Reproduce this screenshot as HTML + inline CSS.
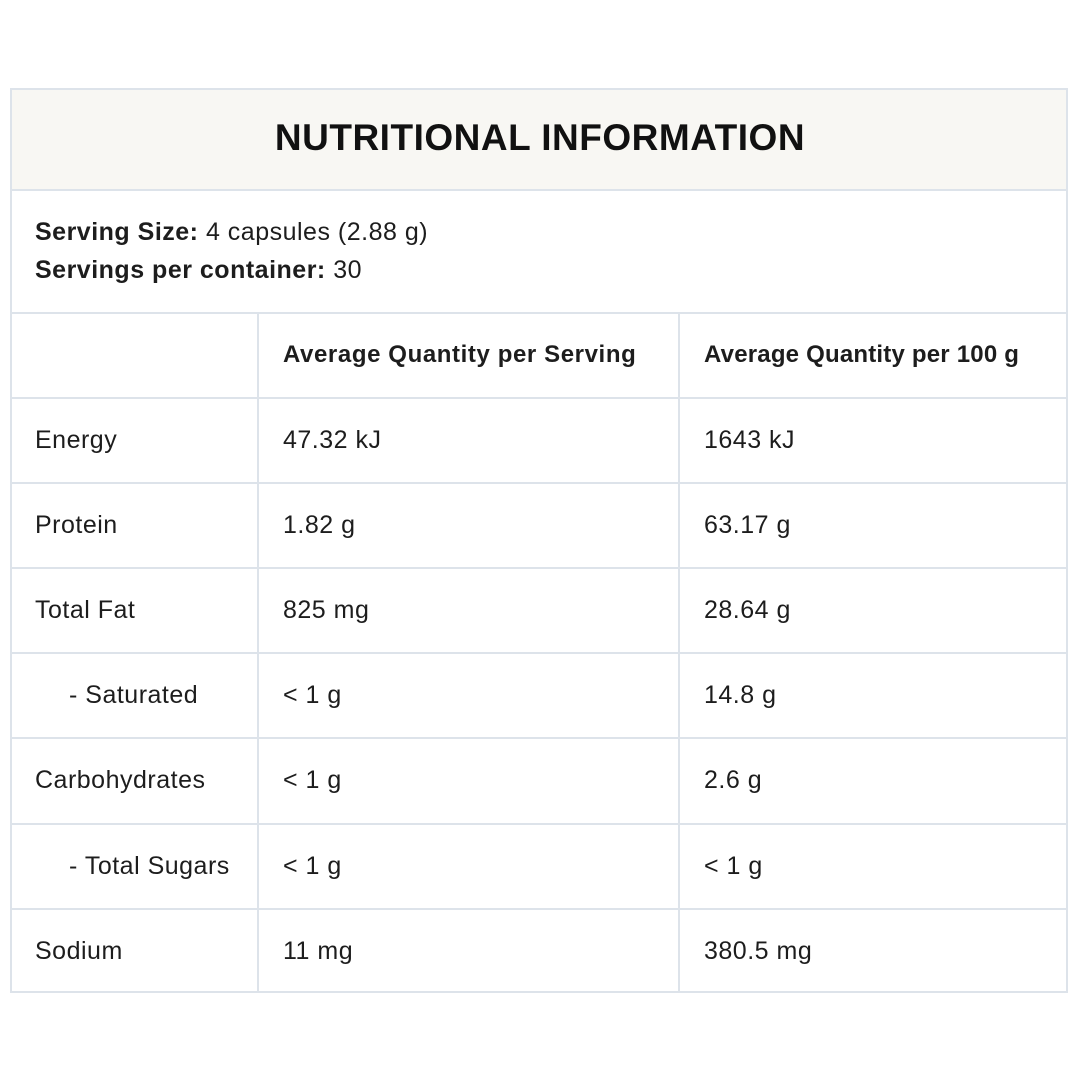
<!DOCTYPE html>
<html><head><meta charset="utf-8"><style>
*{margin:0;padding:0;box-sizing:border-box}
body{width:1080px;height:1080px;background:#fff;font-family:"Liberation Sans",sans-serif;color:#1d1d1d;position:relative;overflow:hidden}
.a{position:absolute}
.h{background:#dde3ea}
.t{position:absolute;font-size:25px;letter-spacing:0.5px;white-space:nowrap;line-height:1}
.b{font-weight:bold}
</style></head><body>
<div class="a" style="left:10px;top:88px;width:1058px;height:102px;background:#f8f7f3"></div>
<div class="a h" style="left:10px;top:88px;width:1058px;height:2px"></div>
<div class="a h" style="left:10px;top:991px;width:1058px;height:2px"></div>
<div class="a h" style="left:10px;top:88px;width:2px;height:905px"></div>
<div class="a h" style="left:1066px;top:88px;width:2px;height:905px"></div>
<div class="a h" style="left:10px;top:189px;width:1058px;height:2px"></div>
<div class="a h" style="left:10px;top:312px;width:1058px;height:2px"></div>
<div class="a h" style="left:10px;top:397px;width:1058px;height:2px"></div>
<div class="a h" style="left:10px;top:482px;width:1058px;height:2px"></div>
<div class="a h" style="left:10px;top:567px;width:1058px;height:2px"></div>
<div class="a h" style="left:10px;top:652px;width:1058px;height:2px"></div>
<div class="a h" style="left:10px;top:737px;width:1058px;height:2px"></div>
<div class="a h" style="left:10px;top:823px;width:1058px;height:2px"></div>
<div class="a h" style="left:10px;top:908px;width:1058px;height:2px"></div>
<div class="a h" style="left:257px;top:312px;width:2px;height:681px"></div>
<div class="a h" style="left:678px;top:312px;width:2px;height:681px"></div>

<div class="t b" style="left:0;width:1080px;text-align:center;top:119px;font-size:37px;letter-spacing:0.5px;color:#111">NUTRITIONAL INFORMATION</div>
<div class="t" style="left:35px;top:220px"><span class="b">Serving Size:</span> 4 capsules (2.88 g)</div>
<div class="t" style="left:35px;top:258px"><span class="b">Servings per container:</span> 30</div>

<div class="t b" style="left:283px;top:343px;font-size:24px;letter-spacing:0.6px">Average Quantity per Serving</div>
<div class="t b" style="left:704px;top:343px;font-size:24px;letter-spacing:0.2px">Average Quantity per 100 g</div>

<div class="t" style="left:35px;top:428px">Energy</div><div class="t" style="left:283px;top:428px">47.32 kJ</div><div class="t" style="left:704px;top:428px">1643 kJ</div>
<div class="t" style="left:35px;top:513px">Protein</div><div class="t" style="left:283px;top:513px">1.82 g</div><div class="t" style="left:704px;top:513px">63.17 g</div>
<div class="t" style="left:35px;top:598px">Total Fat</div><div class="t" style="left:283px;top:598px">825 mg</div><div class="t" style="left:704px;top:598px">28.64 g</div>
<div class="t" style="left:69px;top:683px">- Saturated</div><div class="t" style="left:283px;top:683px">&lt; 1 g</div><div class="t" style="left:704px;top:683px">14.8 g</div>
<div class="t" style="left:35px;top:768px">Carbohydrates</div><div class="t" style="left:283px;top:768px">&lt; 1 g</div><div class="t" style="left:704px;top:768px">2.6 g</div>
<div class="t" style="left:69px;top:854px">- Total Sugars</div><div class="t" style="left:283px;top:854px">&lt; 1 g</div><div class="t" style="left:704px;top:854px">&lt; 1 g</div>
<div class="t" style="left:35px;top:939px">Sodium</div><div class="t" style="left:283px;top:939px">11 mg</div><div class="t" style="left:704px;top:939px">380.5 mg</div>
</body></html>
